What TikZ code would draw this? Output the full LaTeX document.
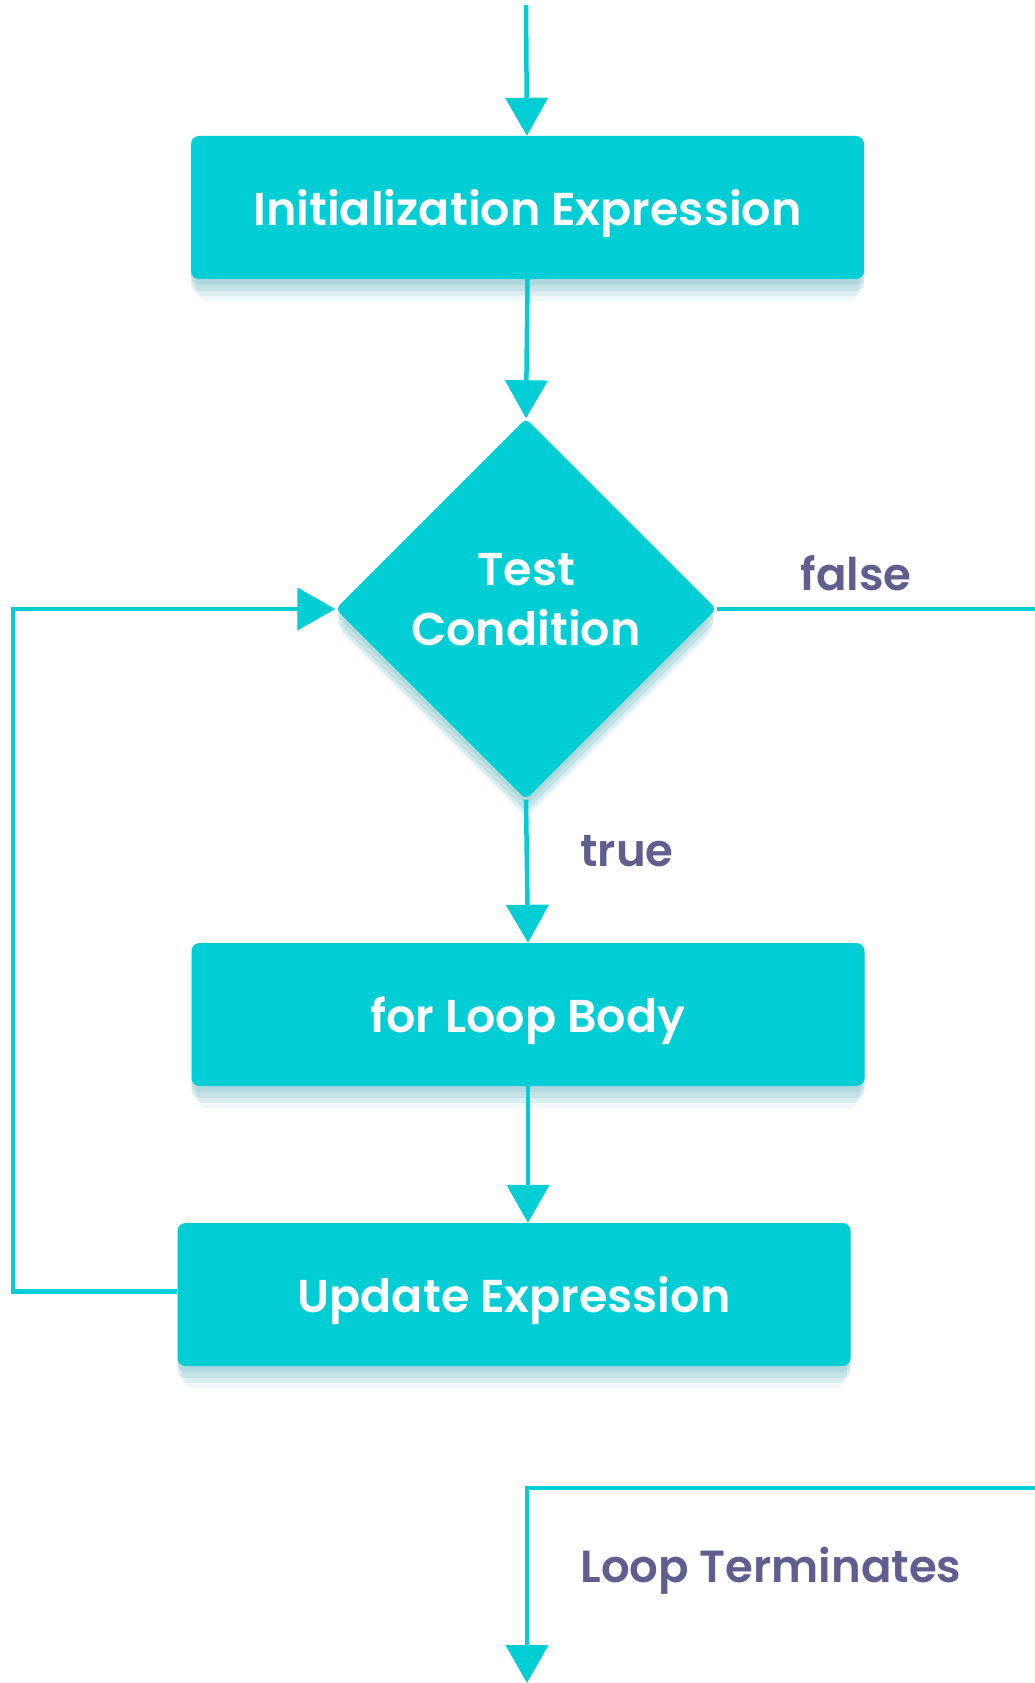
\documentclass[tikz,border=0pt]{standalone}
\usepackage{fontspec}
\setmainfont{Poppins}[BoldFont={Poppins SemiBold}]
\usetikzlibrary{arrows.meta,positioning,shapes.geometric,shadows,calc}
\definecolor{flowcyan}{RGB}{0,205,212}
\definecolor{tagpurple}{RGB}{96,94,143}
\definecolor{shadecyan}{RGB}{140,198,204}

\begin{document}
\begin{tikzpicture}[x=1pt,y=-1pt]
\tikzstyle{softshadow} = [drop shadow={shadow xshift=0pt, shadow yshift=-6pt, fill=shadecyan, opacity=0.35}, drop shadow={shadow xshift=0pt, shadow yshift=-12pt, fill=shadecyan, opacity=0.3}, drop shadow={shadow xshift=0pt, shadow yshift=-18pt, shadow scale=0.99, fill=shadecyan, opacity=0.2}, drop shadow={shadow xshift=0pt, shadow yshift=-24pt, shadow scale=0.98, fill=shadecyan, opacity=0.12}]
\tikzstyle{stepbox} = [draw=none, fill=flowcyan, rounded corners=8pt, minimum width=673pt, minimum height=143pt, text=white, text depth=0pt, font=\fontsize{46}{55}\selectfont\bfseries, softshadow]
\tikzstyle{tag} = [text=tagpurple, font=\fontsize{45}{54}\selectfont\bfseries]
 % connectors all share the same cyan line and big triangle tip
\tikzset{flow/.style={draw=flowcyan, line width=4.5pt, -{Triangle[width=42pt,length=38pt]}}}
\tikzset{wire/.style={draw=flowcyan, line width=4.5pt}}
\useasboundingbox (0,0) rectangle (1035,1683);

\node[stepbox] (init) at (527.5,207.5) {Initialization Expression};
\node[diamond, aspect=1, fill=flowcyan, minimum width=381pt, minimum height=381pt, inner sep=0pt, rounded corners=6pt, softshadow] (test) at (526,609) {};
\node[text=white, align=center, font=\fontsize{46}{60}\selectfont\bfseries] (testtext) at ([yshift=9pt]test.center) {Test\\Condition};
\node[stepbox] (body) at (528,1014.5) {for Loop Body};
\node[stepbox] (update) at (514,1294.5) {Update Expression};

\coordinate (entry) at (526,5);
\coordinate (back) at (13,1291);
\coordinate (exitR) at (1035,609);
\coordinate (exitT) at (1035,1488);
\coordinate (exitC) at (527,1488);
\coordinate (exitB) at (527,1683);

\draw[flow] (entry) -- (init);
\draw[flow] (init.south) -- (test.north);
\draw[flow] (test.south) -- (body.north);
\draw[flow] (body.south) -- (body.south |- update.north);
\draw[flow] ([yshift=3pt]update.west) -- ([yshift=3pt]update.west -| back) |- (test.west);
\draw[wire] (test.east) -- (exitR);
\draw[flow] (exitT) -- (exitC) -- (exitB);

\node[tag] (falsetag) at (856,573) {false};
\node[tag] (truetag) at (627,851) {true};
\node[tag] (endtag) at (771,1571) {Loop Terminates};

%\node[tag] at ($(test.east)!0.5!(exitR)$) {false};
\end{tikzpicture}
\end{document}
